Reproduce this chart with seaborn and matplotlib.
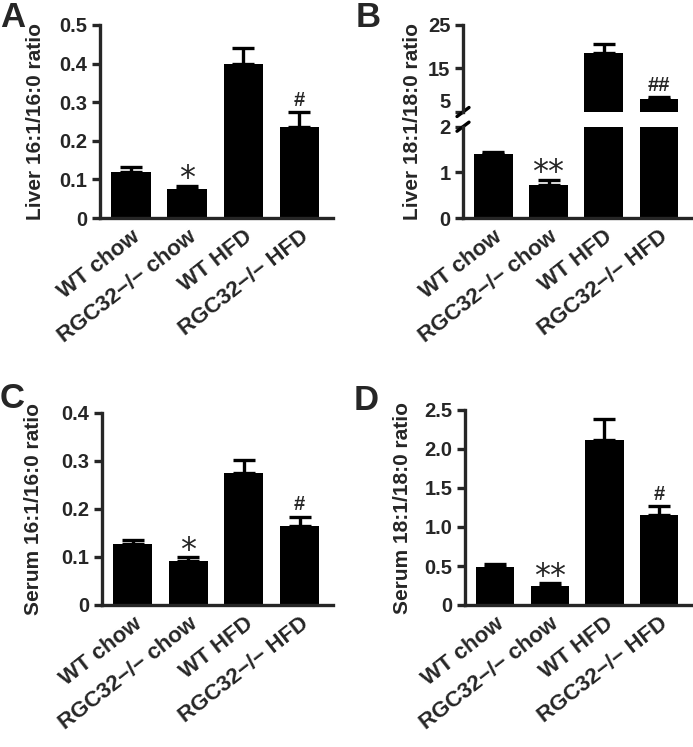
import numpy as np
import seaborn as sns
import matplotlib.pyplot as plt

#Data (mean and SEM, upper error bar only)
groups = ['WT chow', 'RGC32\u2212/\u2212 chow', 'WT HFD', 'RGC32\u2212/\u2212 HFD']

liver_16 = [0.120, 0.075, 0.400, 0.236]
liver_16_sem = [0.011, 0.009, 0.041, 0.038]
liver_16_marks = ['', '*', '', '#']

liver_18 = [1.40, 0.72, 18.5, 8.0]
liver_18_sem = [0.05, 0.11, 2.1, 0.5]
liver_18_marks = ['', '**', '', '##']

serum_16 = [0.128, 0.092, 0.276, 0.164]
serum_16_sem = [0.008, 0.007, 0.027, 0.020]
serum_16_marks = ['', '*', '', '#']

serum_18 = [0.49, 0.25, 2.12, 1.16]
serum_18_sem = [0.03, 0.03, 0.27, 0.11]
serum_18_marks = ['', '**', '', '#']

sns.set_style('ticks')
plt.rcParams['font.family'] = ['Liberation Sans', 'DejaVu Sans']
plt.rcParams['font.weight'] = 'bold'
plt.rcParams['axes.linewidth'] = 2.4
plt.rcParams['xtick.major.width'] = 2.4
plt.rcParams['ytick.major.width'] = 2.4
plt.rcParams['ytick.major.size'] = 6
plt.rcParams['xtick.major.size'] = 0

LW = 2.4


def draw_bars(ax, values, sem):
    sns.barplot(x=groups, y=values, color='black', saturation=1, width=0.7,
                errorbar=None, linewidth=0, ax=ax)
    ax.errorbar(range(len(groups)), values,
                yerr=[np.zeros(len(values)), sem],
                fmt='none', ecolor='black', elinewidth=LW, capsize=8, capthick=LW)
    ax.set_xlim(-0.55, 3.6)
    ax.set_xlabel('')
    ax.tick_params(axis='y', labelsize=14.5, pad=3)
    sns.despine(ax=ax)


def set_xlabels(ax):
    ax.set_xticks(range(len(groups)))
    ax.set_xticklabels(groups, rotation=38, ha='right', rotation_mode='anchor',
                       fontsize=16, fontweight='bold')
    ax.tick_params(axis='x', pad=6)


def add_marks(ax, values, sem, marks):
    for i, m in enumerate(marks):
        if m == '':
            continue
        top = values[i] + sem[i]
        if '*' in m:
            ax.annotate(m, xy=(i, top), xytext=(0, -1), textcoords='offset points',
                        ha='center', va='baseline', fontsize=23,
                        family='DejaVu Sans', fontweight='normal', annotation_clip=False)
        else:
            ax.annotate(m, xy=(i, top), xytext=(0, 4.5), textcoords='offset points',
                        ha='center', va='baseline', fontsize=14.5, fontweight='bold',
                        annotation_clip=False)


fig = plt.figure(figsize=(6.93, 7.47), dpi=100)
W, H = 693, 747


def box(left, right, top, bottom):
    return [left / W, (H - bottom) / H, (right - left) / W, (bottom - top) / H]


#Panel A
axA = fig.add_axes(box(100, 333, 25, 218))
draw_bars(axA, liver_16, liver_16_sem)
axA.set_ylim(0, 0.5)
axA.set_yticks([0, 0.1, 0.2, 0.3, 0.4, 0.5])
axA.set_yticklabels(['0', '0.1', '0.2', '0.3', '0.4', '0.5'])
set_xlabels(axA)
add_marks(axA, liver_16, liver_16_sem, liver_16_marks)
axA.set_ylabel('Liver 16:1/16:0 ratio', fontsize=15, fontweight='bold')
axA.yaxis.set_label_coords(-0.235, 0.5)

#Panel B (broken y axis)
axBt = fig.add_axes(box(463, 692, 25, 112))
axBb = fig.add_axes(box(463, 692, 126.7, 218))
draw_bars(axBt, liver_18, liver_18_sem)
draw_bars(axBb, liver_18, liver_18_sem)
axBt.set_ylim(5, 25)
axBt.set_yticks([5, 15, 25])
axBt.set_yticklabels(['5', '15', '25'])
axBt.get_yticklabels()[0].set_va('bottom')
axBt.spines['bottom'].set_visible(False)
axBt.set_xticks([])
axBb.set_ylim(0, 2)
axBb.set_yticks([0, 1, 2])
axBb.set_yticklabels(['0', '1', '2'])
set_xlabels(axBb)
add_marks(axBb, liver_18[:2], liver_18_sem[:2], liver_18_marks[:2])
add_marks(axBt, liver_18, liver_18_sem, ['', '', '', liver_18_marks[3]])
dx, dy = 6 / 229, 4.5 / 87
axBt.plot([-dx, dx], [-dy, dy], color='black', lw=LW, transform=axBt.transAxes, clip_on=False)
dy = 4.5 / 91
axBb.plot([-dx, dx], [1 - dy, 1 + dy], color='black', lw=LW, transform=axBb.transAxes, clip_on=False)
fig.text(413 / W, (H - 121.5) / H, 'Liver 18:1/18:0 ratio', rotation=90,
         ha='center', va='center', fontsize=15, fontweight='bold')

#Panel C
axC = fig.add_axes(box(102, 333, 413, 605))
draw_bars(axC, serum_16, serum_16_sem)
axC.set_ylim(0, 0.4)
axC.set_yticks([0, 0.1, 0.2, 0.3, 0.4])
axC.set_yticklabels(['0', '0.1', '0.2', '0.3', '0.4'])
set_xlabels(axC)
add_marks(axC, serum_16, serum_16_sem, serum_16_marks)
axC.set_ylabel('Serum 16:1/16:0 ratio', fontsize=15, fontweight='bold')
axC.yaxis.set_label_coords(-0.255, 0.5)

#Panel D
axD = fig.add_axes(box(465, 692, 410, 605))
draw_bars(axD, serum_18, serum_18_sem)
axD.set_ylim(0, 2.5)
axD.set_yticks([0, 0.5, 1.0, 1.5, 2.0, 2.5])
axD.set_yticklabels(['0', '0.5', '1.0', '1.5', '2.0', '2.5'])
set_xlabels(axD)
add_marks(axD, serum_18, serum_18_sem, serum_18_marks)
axD.set_ylabel('Serum 18:1/18:0 ratio', fontsize=15, fontweight='bold')
axD.yaxis.set_label_coords(-0.233, 0.5)

#Panel letters
for letter, x, y in [('A', 0, 746), ('B', 356, 746), ('C', 0, 365), ('D', 354, 363)]:
    fig.text(x / W, y / H, letter, fontsize=25, fontweight='bold', ha='left', va='top')

fig.savefig('out.png', dpi=100)
